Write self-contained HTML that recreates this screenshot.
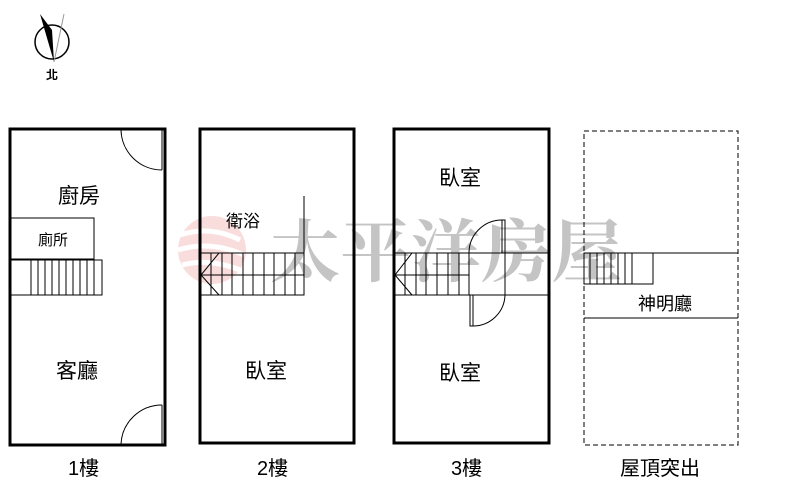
<!DOCTYPE html>
<html><head><meta charset="utf-8"><style>
body{margin:0;background:#fff}
svg text{font-family:"Liberation Sans","Noto Sans CJK TC",sans-serif;fill:#000}
</style></head><body>
<svg width="800" height="490" viewBox="0 0 800 490" xmlns="http://www.w3.org/2000/svg">
<!-- watermark -->
<g opacity="0.35">
<circle cx="212" cy="250" r="34" fill="#f0a0a0"/>
<path d="M180 235 Q210 225 240 240 M178 250 Q210 240 244 255 M182 265 Q210 258 240 270" stroke="#fff" stroke-width="5" fill="none"/>
</g>
<text x="270" y="276" font-size="68" font-weight="bold" textLength="352" lengthAdjust="spacingAndGlyphs" style="fill:#c4c4c4;font-family:'Noto Serif CJK SC','Noto Sans CJK TC',serif">太平洋房屋</text>
<!-- compass -->
<circle cx="52" cy="42" r="17" fill="none" stroke="#000" stroke-width="1.5"/>
<polygon points="40,14 52,30 54,62" fill="#000"/>
<line x1="64" y1="14" x2="54" y2="62" stroke="#999"/>
<text x="46" y="79" font-size="12" font-weight="bold">北</text>
<g fill="none" stroke="#000">
<!-- building 1 -->
<rect x="10" y="129" width="155" height="316" stroke-width="3"/>
<line x1="162" y1="130" x2="162" y2="170" stroke-width="1"/>
<path d="M121 130 A41 41 0 0 0 162 170" stroke-width="1"/>
<line x1="162" y1="405" x2="162" y2="444"/>
<path d="M121 444 A41 41 0 0 1 162 405"/>
<rect x="11" y="218" width="83" height="41"/>
<rect x="11" y="260" width="91" height="35"/>
<path d="M31 260V295M38 260V295M45 260V295M52 260V295M59 260V295M66 260V295M73 260V295M80 260V295M87 260V295M94 260V295"/>
<!-- building 2 -->
<rect x="200" y="129" width="154" height="314" stroke-width="3"/>
<line x1="304" y1="196" x2="304" y2="295"/>
<rect x="201" y="253" width="103" height="42"/>
<line x1="201" y1="275" x2="304" y2="275"/>
<path d="M211 253V295M222 253V295M232 253V295M243 253V295M253 253V295M264 253V295M274 253V295M285 253V295M295 253V295"/>
<path d="M219 253L201 275L219 295"/>
<!-- building 3 -->
<rect x="394" y="129" width="155" height="314" stroke-width="3"/>
<line x1="395" y1="253" x2="548" y2="253"/>
<line x1="395" y1="295" x2="548" y2="295"/>
<line x1="395" y1="275" x2="469" y2="275"/>
<path d="M405 253V295M416 253V295M426 253V295M437 253V295M448 253V295M459 253V295M469 253V295M505 253V295"/>
<path d="M412 253L395 275L412 295"/>
<rect x="502" y="220" width="3" height="33"/>
<path d="M502 220 A33 33 0 0 0 469 253"/>
<rect x="470" y="295" width="3" height="31"/>
<path d="M473 326 A32 32 0 0 0 505 295"/>
<!-- building 4 -->
<rect x="584" y="131" width="154" height="314" stroke-dasharray="5,3"/>
<line x1="584" y1="253" x2="738" y2="253"/>
<line x1="584" y1="318" x2="738" y2="318"/>
<rect x="584" y="253" width="69" height="31"/>
<path d="M590 253V284M597 253V284M604 253V284M611 253V284M618 253V284M625 253V284M632 253V284"/>
</g>
<text x="58" y="203" font-size="21">廚房</text>
<text x="38" y="245" font-size="15">廁所</text>
<text x="56" y="378" font-size="21">客廳</text>
<text x="226" y="227" font-size="17">衛浴</text>
<text x="245" y="378" font-size="21">臥室</text>
<text x="439" y="185" font-size="21">臥室</text>
<text x="439" y="380" font-size="21">臥室</text>
<text x="638" y="310" font-size="18">神明廳</text>
<text x="68" y="475" font-size="20">1樓</text>
<text x="257" y="475" font-size="20">2樓</text>
<text x="451" y="475" font-size="20">3樓</text>
<text x="620" y="475" font-size="20">屋頂突出</text>
</svg>
</body></html>
